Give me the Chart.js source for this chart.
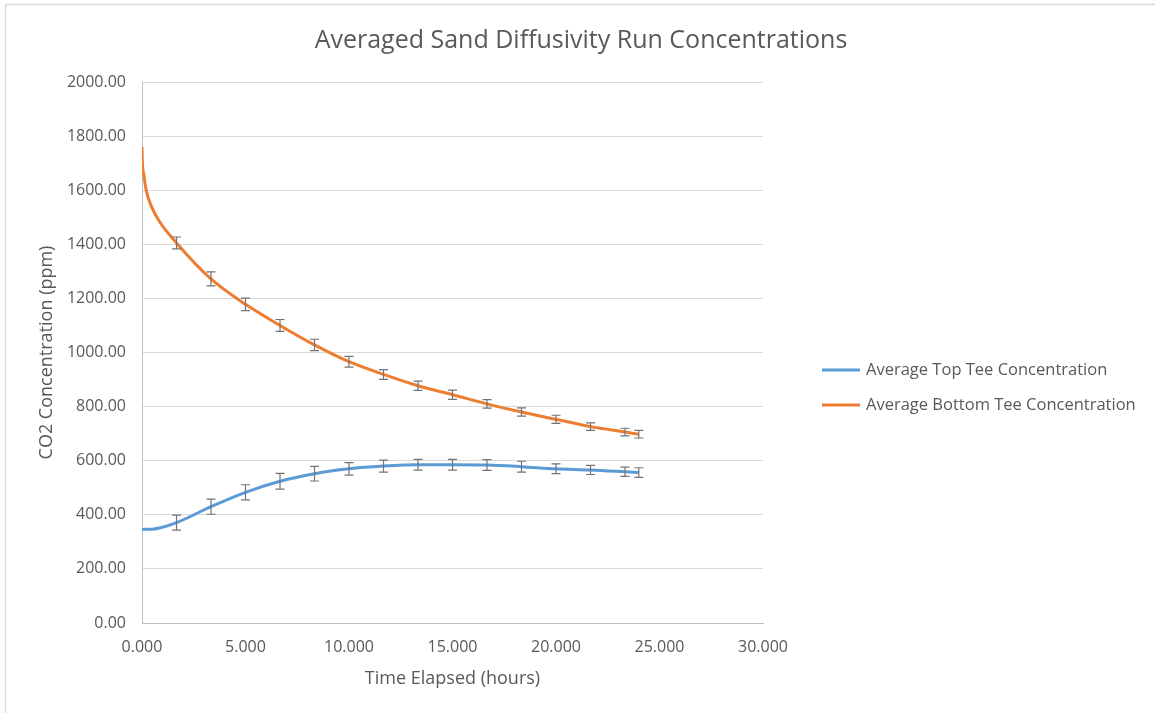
<!DOCTYPE html>
<html>
<head>
<meta charset="utf-8">
<script src="https://cdn.jsdelivr.net/npm/chart.js"></script>
<style>
  html, body { margin: 0; padding: 0; background: #fff; }
  #wrap { width: 1155px; height: 713px; }
</style>
</head>
<body>
<div id="wrap"><canvas id="Chart"></canvas></div>
<script>
const chartTitle = "Averaged Sand Diffusivity Run Concentrations";
const seriesLabels = ["Average Top Tee Concentration", "Average Bottom Tee Concentration"];
const seriesColors = ["#5B9BD5", "#ED7D31"];

// times (hours) where error bars were plotted
const barHours = [1.667, 3.333, 5.0, 6.667, 8.333, 10.0, 11.667, 13.333, 15.0, 16.667, 18.333, 20.0, 21.667, 23.333, 24.0];
const topMean = [371, 430, 483, 524, 552, 570, 580, 585, 585, 584, 578, 570, 566, 559, 556];
const topErr = [28, 28, 28, 29, 27, 23, 22, 20, 20, 20, 20, 18, 17, 17, 18];
const bottomMean = [1405, 1272, 1178, 1100, 1028, 966, 919, 877, 844, 810, 780, 753, 726, 706, 698];
const bottomErr = [22, 26, 23, 22, 21, 20, 18, 17, 17, 16, 15, 15, 14, 14, 14];

// extra readings before the first error bar
const topEarlyHours = [0, 0.5, 0.9];
const topEarly = [346, 347, 352];
const bottomEarlyHours = [0, 0.02, 0.08, 0.2, 0.45, 0.82];
const bottomEarly = [1760, 1700, 1662, 1601, 1541, 1487];

const textColor = "#595959";
const fontFamily = "'Open Sans', sans-serif";

function toPoints(hours, values) {
  return hours.map((h, i) => ({ x: h, y: values[i] }));
}

const errorBars = {
  id: "errorBars",
  afterDatasetsDraw(chart) {
    const { ctx, scales: { x, y } } = chart;
    ctx.save();
    ctx.strokeStyle = "#737373";
    ctx.lineWidth = 1.2;
    chart.data.datasets.forEach((ds) => {
      ds.errMean.forEach((m, i) => {
        const px = x.getPixelForValue(barHours[i]);
        const y1 = y.getPixelForValue(m + ds.errSize[i]);
        const y2 = y.getPixelForValue(m - ds.errSize[i]);
        ctx.beginPath();
        ctx.moveTo(px, y1);
        ctx.lineTo(px, y2);
        ctx.moveTo(px - 4.5, y1);
        ctx.lineTo(px + 4.5, y1);
        ctx.moveTo(px - 4.5, y2);
        ctx.lineTo(px + 4.5, y2);
        ctx.stroke();
      });
    });
    ctx.restore();
  },
};

// outer frame, title and legend
const decorations = {
  id: "decorations",
  beforeDraw(chart) {
    const ctx = chart.ctx;
    ctx.save();
    ctx.strokeStyle = "#d9d9d9";
    ctx.lineWidth = 1.5;
    ctx.beginPath();
    ctx.moveTo(5.5, 720);
    ctx.lineTo(5.5, 4.5);
    ctx.lineTo(1160, 4.5);
    ctx.stroke();
    ctx.restore();
  },
  afterDraw(chart) {
    const ctx = chart.ctx;
    ctx.save();
    ctx.fillStyle = textColor;
    ctx.textBaseline = "middle";
    ctx.textAlign = "center";
    ctx.font = "25px " + fontFamily;
    ctx.fillText(chartTitle, 581, 41);

    ctx.textAlign = "left";
    ctx.font = "16.5px " + fontFamily;
    chart.data.datasets.forEach((ds, i) => {
      const ly = 370 + i * 35;
      ctx.strokeStyle = ds.borderColor;
      ctx.lineWidth = 3;
      ctx.beginPath();
      ctx.moveTo(822, ly);
      ctx.lineTo(860, ly);
      ctx.stroke();
      ctx.fillText(ds.label, 866, ly);
    });
    ctx.restore();
  },
};

const datasets = [
  {
    label: seriesLabels[0],
    data: toPoints(topEarlyHours.concat(barHours), topEarly.concat(topMean)),
    borderColor: seriesColors[0],
    errMean: topMean,
    errSize: topErr,
  },
  {
    label: seriesLabels[1],
    data: toPoints(bottomEarlyHours.concat(barHours), bottomEarly.concat(bottomMean)),
    borderColor: seriesColors[1],
    errMean: bottomMean,
    errSize: bottomErr,
  },
].map((d) => ({
  ...d,
  showLine: true,
  borderWidth: 3,
  pointRadius: 0,
  cubicInterpolationMode: "monotone",
}));

new Chart(document.getElementById("Chart"), {
  type: "scatter",
  data: { datasets },
  plugins: [errorBars, decorations],
  options: {
    responsive: true,
    maintainAspectRatio: false,
    animation: false,
    layout: { padding: { top: 82, left: 0, right: 392, bottom: 0 } },
    plugins: {
      legend: { display: false },
      title: { display: false },
      tooltip: { enabled: false },
    },
    scales: {
      x: {
        type: "linear",
        min: 0,
        max: 30,
        afterFit: (s) => { s.height = 90; },
        ticks: {
          stepSize: 5,
          padding: 15,
          color: textColor,
          font: { family: fontFamily, size: 16 },
          callback: (v) => v.toFixed(3),
        },
        grid: { display: false, drawTicks: false },
        border: { color: "#bfbfbf", width: 1 },
        title: {
          display: true,
          text: "Time Elapsed (hours)",
          color: textColor,
          font: { family: fontFamily, size: 18 },
          padding: { bottom: 23 },
        },
      },
      y: {
        min: 0,
        max: 2000,
        afterFit: (s) => { s.width = 142; },
        ticks: {
          stepSize: 200,
          padding: 16,
          color: textColor,
          font: { family: fontFamily, size: 16 },
          callback: (v) => v.toFixed(2),
        },
        grid: { color: "#d9d9d9", drawTicks: false },
        border: { color: "#bfbfbf", width: 1 },
        title: {
          display: true,
          text: "CO2 Concentration (ppm)",
          color: textColor,
          font: { family: fontFamily, size: 18 },
          padding: { top: 36 },
        },
      },
    },
  },
});
</script>
</body>
</html>
